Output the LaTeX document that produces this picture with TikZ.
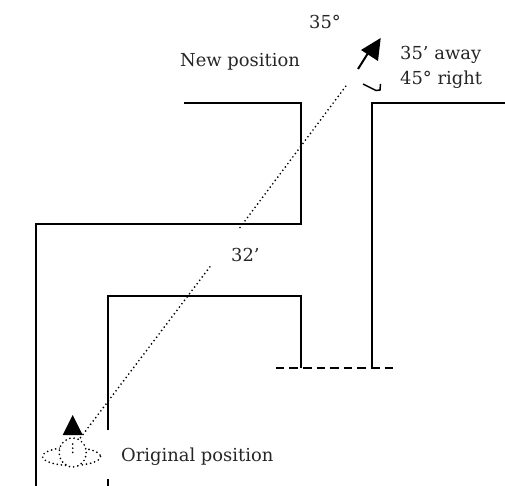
\documentclass[tikz,border=0pt]{standalone}
\usepackage{fontspec}
\setmainfont{DejaVu Serif}
\begin{document}
\begin{tikzpicture}[x=1pt,y=-1pt,
  wall/.style={line width=2pt,black,line join=miter},
  dots/.style={line width=1.9pt,black,line cap=round,dash pattern=on 0pt off 4.2pt},
  lab/.style={inner sep=0pt,text=black!85,font=\fontsize{17.9}{20}\selectfont,anchor=base west}]
\useasboundingbox (0,0) rectangle (505,486);
\coordinate (o1) at (36,486); \coordinate (o2) at (36,224); \coordinate (o3) at (301,224);
\coordinate (o4) at (301,103); \coordinate (o5) at (184,103);
\draw[wall] (o1)--(o2)--(o3)--(o4)--(o5);
\coordinate (i1) at (108,430); \coordinate (i2) at (108,296); \coordinate (i3) at (301,296); \coordinate (i4) at (301,368);
\draw[wall] (i1)--(i2)--(i3)--(i4);
\coordinate (i5) at (108,479); \coordinate (i6) at (108,486);
\draw[wall] (i5)--(i6);
\coordinate (r1) at (372,368); \coordinate (r2) at (372,103); \coordinate (r3) at (505,103);
\draw[wall] (r1)--(r2)--(r3);
\coordinate (d1) at (275.7,368); \coordinate (d2) at (393,368);
\draw[line width=2pt,dash pattern=on 8.6pt off 5pt] (d1)--(d2);
\coordinate (s1) at (78,441); \coordinate (s2) at (210,266.7); \coordinate (s3) at (240,227.5); \coordinate (s4) at (346.7,85);
\draw[dots] (s1)--(s2); \draw[dots] (s3)--(s4);
\coordinate (t1) at (72.7,415); \coordinate (t2) at (62.7,435); \coordinate (t3) at (82.7,435);
\fill (t1)--(t2)--(t3)--cycle;
\coordinate (e) at (71.5,456.5);
\draw[dots] (e) ellipse [x radius=29,y radius=9];
\coordinate (c) at (72.7,452.5);
\draw[dots,fill=white] (c) ellipse [x radius=13.5,y radius=14.5];
\coordinate (p1) at (72.7,444); \coordinate (p2) at (72.7,453);
\draw[dots] (p1)--(p2);
\coordinate (a1) at (358,69); \coordinate (a2) at (370,50);
\draw[line width=2pt] (a1)--(a2);
\coordinate (h1) at (380.7,38); \coordinate (h2) at (361,50); \coordinate (h3) at (378,61);
\fill (h1)--(h2)--(h3)--cycle;
\coordinate (k1) at (363,84); \coordinate (k2) at (376,90.5); \coordinate (k3) at (380,90); \coordinate (k4) at (380.5,84);
\draw[line width=1.5pt] (k1)--(k2)--(k3)--(k4);
\node[lab] (n35) at (309,29) {35°};
\node[lab] (nnew) at (180,66.5) {New position};
\node[lab] (naway) at (400,60) {35’ away};
\node[lab] (nright) at (400,85) {45° right};
\node[lab] (n32) at (231,261) {32’};
\node[lab] (norig) at (121,461) {Original position};
\end{tikzpicture}
\end{document}
